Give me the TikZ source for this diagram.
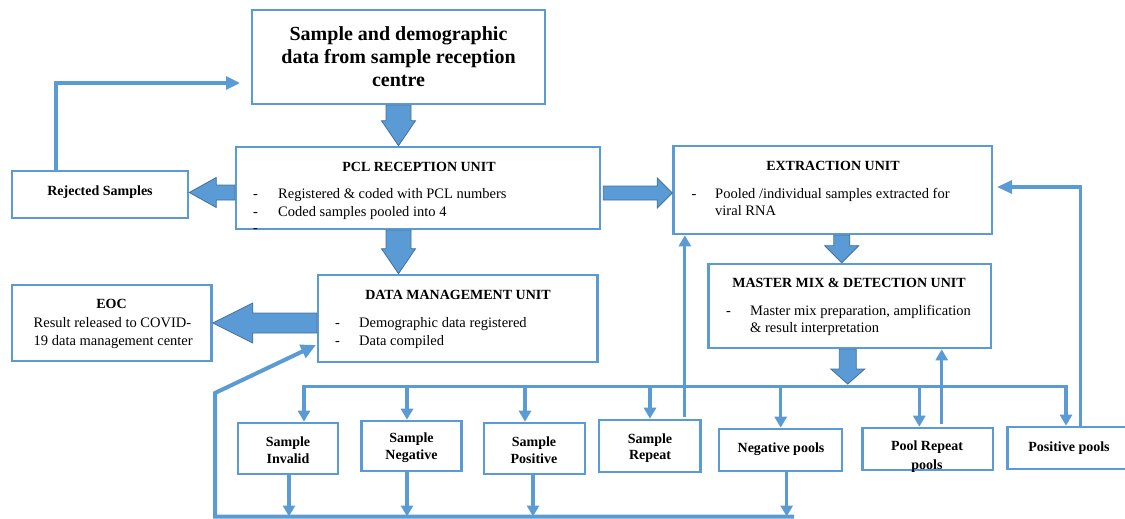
\documentclass[tikz,border=0pt]{standalone}
\usepackage{fontspec}
\setmainfont{Liberation Serif}
\usetikzlibrary{arrows.meta,calc}
\definecolor{bl}{HTML}{5B9BD5}
\definecolor{bld}{HTML}{41719C}
% vertical block arrow: from, to, shaft half width, head half width, head length
\newcommand\vblk[5]{\filldraw[barrow] let \p1=(#1), \p2=(#2) in
  (\x1-#3pt,\y1) -- (\x1+#3pt,\y1) -- (\x1+#3pt,\y2+#5pt) -- (\x1+#4pt,\y2+#5pt) -- (\x1,\y2)
  -- (\x1-#4pt,\y2+#5pt) -- (\x1-#3pt,\y2+#5pt) -- cycle;}
% horizontal block arrow: from, to, shaft half height, head half height, head length (signed: + for leftward)
\newcommand\hblk[5]{\filldraw[barrow] let \p1=(#1), \p2=(#2) in
  (\x1,\y1-#3pt) -- (\x1,\y1+#3pt) -- (\x2+#5pt,\y1+#3pt) -- (\x2+#5pt,\y1+#4pt) -- (\x2,\y1)
  -- (\x2+#5pt,\y1-#4pt) -- (\x2+#5pt,\y1-#3pt) -- cycle;}
\begin{document}
\begin{tikzpicture}[x=1pt,y=-1pt,
  box/.style={draw=bl,line width=2.6pt,inner sep=0pt,fill=white},
  conn/.style={draw=bl,line width=3.2pt,-{Triangle[width=12pt,length=11pt]}},
  plain/.style={draw=bl,line width=3.2pt},
  barrow/.style={fill=bl,draw=bld,line width=0.8pt},
  ttl/.style={font=\bfseries\fontsize{14}{16.5}\selectfont,align=center,inner sep=0pt,anchor=base},
  ttlc/.style={font=\bfseries\fontsize{14}{16.5}\selectfont,align=center,inner sep=0pt},
  txt/.style={font=\fontsize{14.5}{17}\selectfont,anchor=base west,inner sep=0pt},
]
\useasboundingbox (0,0) rectangle (1125,519);

% ---------- boxes ----------
\node[box,minimum width=293pt,minimum height=94pt] (top) at (398.5,57) {};
\node[box,minimum width=364pt,minimum height=82pt] (pcl) at (418,188) {};
\node[box,minimum width=176pt,minimum height=47pt] (rej) at (100,194.5) {};
\node[box,minimum width=318.5pt,minimum height=88pt] (ext) at (832.75,190) {};
\node[box,minimum width=282.5pt,minimum height=84pt] (mm) at (849.75,306) {};
\node[box,minimum width=279.6pt,minimum height=87pt] (dm) at (457.8,318.5) {};
\node[box,minimum width=199.5pt,minimum height=76pt] (eoc) at (111.75,323) {};
\node[box,minimum width=100pt,minimum height=51pt] (inv) at (288,448.5) {};
\node[box,minimum width=100pt,minimum height=50pt] (neg) at (411.7,446) {};
\node[box,minimum width=101pt,minimum height=51pt] (pos) at (534.5,448.5) {};
\node[box,minimum width=101.7pt,minimum height=52pt] (rep) at (649.85,446) {};
\node[box,minimum width=123pt,minimum height=42pt] (negp) at (780.5,450) {};
\node[box,minimum width=130.3pt,minimum height=42pt] (prp) at (927.85,449) {};
\node[box,minimum width=127.3pt,minimum height=42pt] (posp) at (1071.35,448) {};

% ---------- texts ----------
\node[font=\bfseries\fontsize{20}{23}\selectfont,align=center,inner sep=0pt] (toptxt) at (398.5,57)
  {Sample and demographic\\data from sample reception\\centre};

\node[ttl] (pclt) at (419,171) {PCL RECEPTION UNIT};
\node[txt] (pcld1) at (253,198) {-};
\node[txt] (pcl1) at (278,198) {Registered \& coded with PCL numbers};
\node[txt] (pcld2) at (253,216) {-};
\node[txt] (pcl2) at (278,216) {Coded samples pooled into 4};
\node[txt] (pcld3) at (253,232) {-};

\node[ttl] (rejt) at (100,195) {Rejected Samples};

\node[ttl] (extt) at (833,170) {EXTRACTION UNIT};
\node[txt] (extd1) at (691.5,198) {-};
\node[txt] (ext1) at (715,198) {Pooled /individual samples extracted for};
\node[txt] (ext2) at (715,215) {viral RNA};

\node[ttl] (mmt) at (849,287) {MASTER MIX \& DETECTION UNIT};
\node[txt] (mmd1) at (726,315) {-};
\node[txt] (mm1) at (750,315) {Master mix preparation, amplification};
\node[txt] (mm2) at (750,332) {\& result interpretation};

\node[ttl] (dmt) at (458,299) {DATA MANAGEMENT UNIT};
\node[txt] (dmd1) at (335,327) {-};
\node[txt] (dm1) at (359,327) {Demographic data registered};
\node[txt] (dmd2) at (335,345) {-};
\node[txt] (dm2) at (359,345) {Data compiled};

\node[ttl] (eoct) at (111.5,308) {EOC};
\node[txt] (eoc1) at (33.5,327) {Result released to COVID-};
\node[txt] (eoc2) at (33.5,345) {19 data management center};

\node[ttlc] (invt) at (288,450) {Sample\\Invalid};
\node[ttlc] (negt) at (411.5,447.5) {Sample\\Negative};
\node[ttlc] (post) at (534,450) {Sample\\Positive};
\node[ttlc] (rept) at (650,448) {Sample\\Repeat};
\node[ttl] (negpt) at (781,452) {Negative pools};
\node[ttlc,font=\bfseries\fontsize{14}{19}\selectfont] (prpt) at (927,456.5) {Pool Repeat\\pools};
\node[ttl] (pospt) at (1069,451.5) {Positive pools};

% ---------- block arrows ----------
\vblk{top.south}{pcl.north -| top.south}{12.5}{17}{25}
\vblk{pcl.south -| top.south}{dm.north -| top.south}{12.5}{17}{25}
\coordinate (pclL) at ([yshift=-4.5pt]pcl.west);
\hblk{pclL}{rej.east |- pclL}{7.5}{15}{27}
\coordinate (pclR) at ([yshift=-5pt,xshift=2pt]pcl.east);
\hblk{pclR}{ext.west |- pclR}{7}{15}{-15}
\coordinate (extD) at ([xshift=9pt]ext.south);
\vblk{extD}{mm.north -| extD}{8}{17}{17}
\coordinate (mmD) at ([xshift=-2pt]mm.south);
\coordinate (busM) at (847.75,384);
\vblk{mmD}{busM}{8.5}{17}{15}
\coordinate (dmL) at ([yshift=-4.5pt]dm.west);
\hblk{dmL}{eoc.east |- dmL}{10}{20}{40}

% ---------- thin connectors ----------
\coordinate (topin) at (240,83);
\draw[conn,-{Triangle[width=13pt,length=14pt]}] ([xshift=-44pt]rej.north) |- (topin);

\coordinate (extin) at (997,187);
\draw[conn,-{Triangle[width=13pt,length=15pt]}] ([xshift=9.35pt]posp.north) |- (extin);

\coordinate (repUp) at ([xshift=35pt,yshift=2pt]rep.north);
\draw[conn] (repUp) -- (repUp |- ext.south);
\coordinate (prUp) at ([xshift=13.85pt,yshift=3pt]prp.north);
\draw[conn] (prUp) -- (prUp |- mm.south);

% bus
\coordinate (busL) at (304,386.5);
\coordinate (busR) at (1066,386.5);
\draw[plain,line cap=rect] (busL) -- (busR);
\coordinate (b2) at (407,386.5);
\coordinate (b3) at (525,386.5);
\coordinate (b4) at (650,386.5);
\coordinate (b5) at (780.7,386.5);
\coordinate (b6) at (919.3,386.5);
\draw[conn] (busL) -- (busL |- inv.north);
\draw[conn] (b2) -- (b2 |- neg.north);
\draw[conn] (b3) -- (b3 |- pos.north);
\draw[conn] (b4) -- (b4 |- rep.north);
\draw[conn] (b5) -- (b5 |- negp.north);
\draw[conn] (b6) -- (b6 |- prp.north);
\draw[conn,line join=miter] ([yshift=-1.5pt]busR) -- (busR |- posp.north);

% bottom collector
\coordinate (botL) at (215,516.5);
\coordinate (botR) at (794,516.5);
\coordinate (u1) at (289,516.5);
\coordinate (u2) at (407,516.5);
\coordinate (u3) at (533,516.5);
\coordinate (u4) at (786.7,516.5);
\draw[conn] (u1 |- inv.south) -- (u1);
\draw[conn] (u2 |- neg.south) -- (u2);
\draw[conn] (u3 |- pos.south) -- (u3);
\draw[conn] (u4 |- negp.south) -- (u4);
\coordinate (dmin) at (316,345);
\draw[conn,line width=4pt,line join=miter,-{Triangle[width=14pt,length=15pt]}] (botR) -- (botL) -- (215,393) -- (dmin);
\end{tikzpicture}
\end{document}
